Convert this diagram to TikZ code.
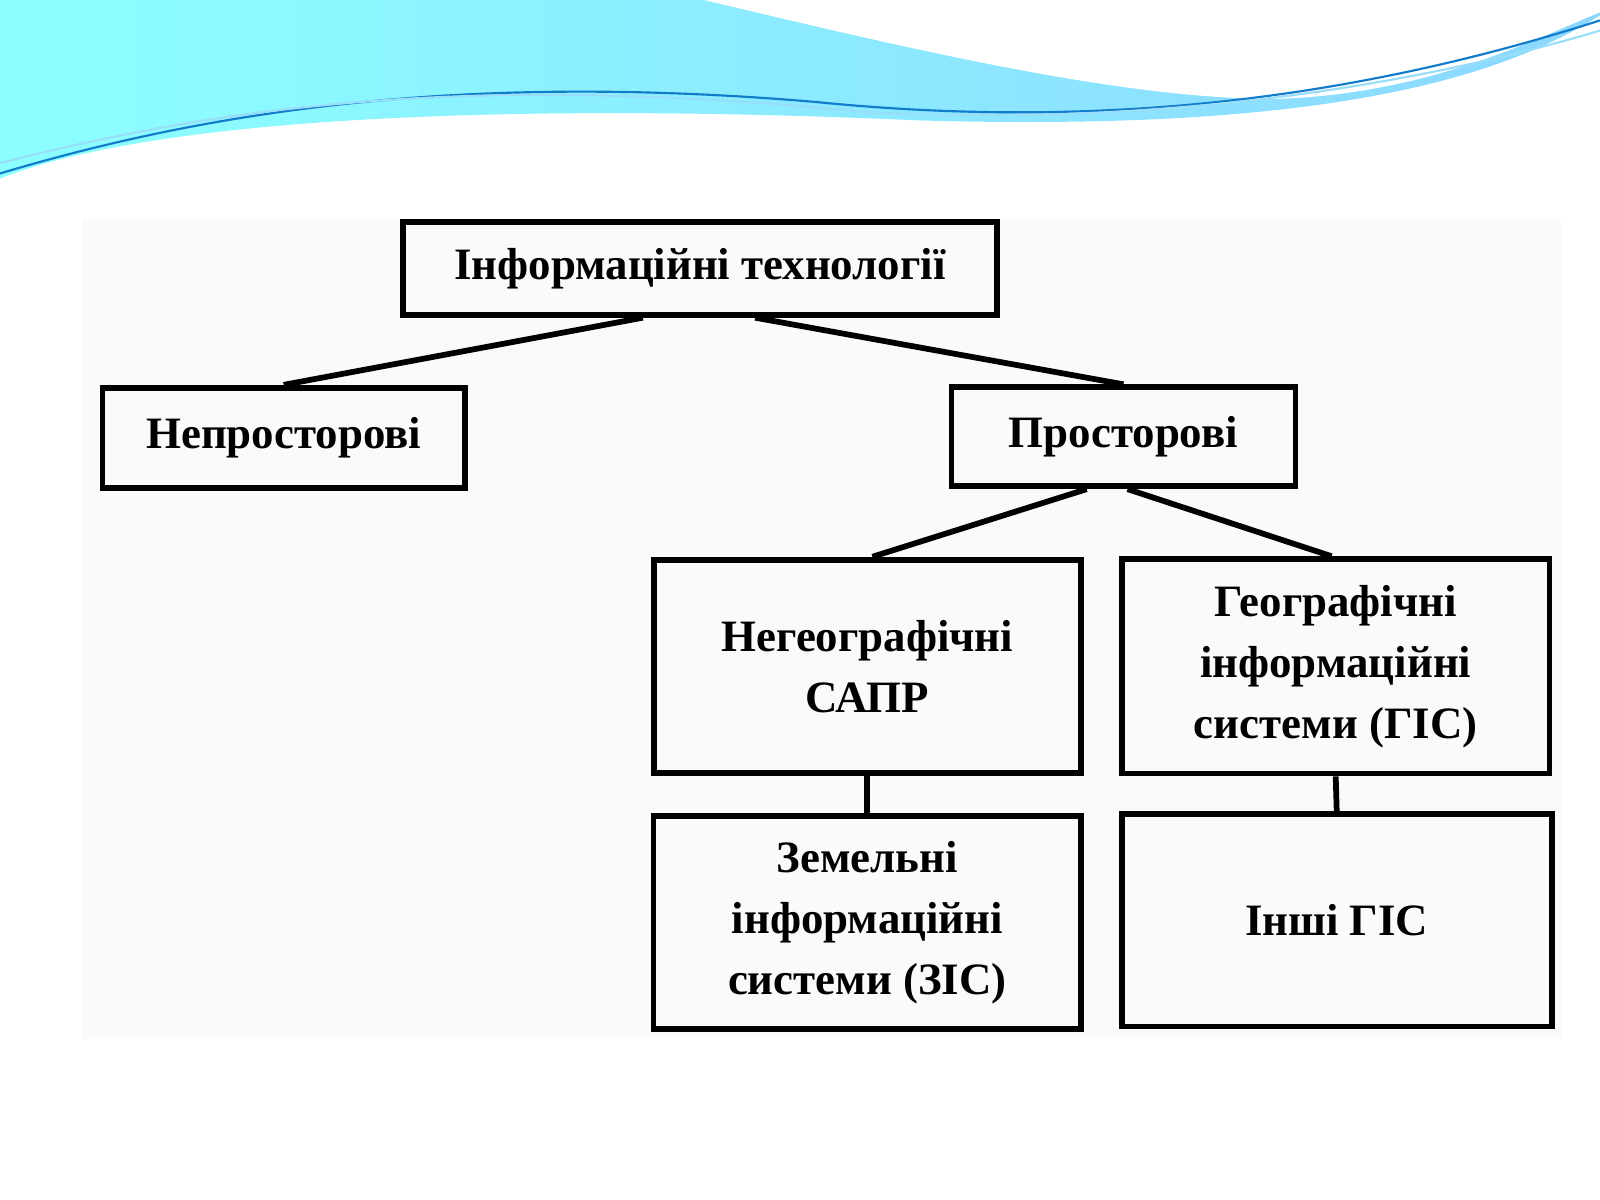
\documentclass[tikz,border=0pt]{standalone}
\usepackage{fontspec}
\setmainfont{Liberation Serif}
\begin{document}
\begin{tikzpicture}[x=0.01cm,y=-0.01cm,
  box/.style 2 args={draw,line width=1.6pt,minimum width=#1,minimum height=#2,inner sep=0pt,align=center,font=\fontsize{12.5}{17}\selectfont\bfseries},
  conn/.style={line width=1.6pt}]
\useasboundingbox (0,0) rectangle (1568,1176);
\fill[white] (0,0) rectangle (1568,1176);
% header wave
\shade[left color=cyan!45!white,right color=blue!35!cyan!45!white]
  (0,0) -- (1568,0) -- (1568,15) .. controls (1450,90) and (1250,128) .. (900,118)
  .. controls (500,100) and (150,115) .. (0,175) -- cycle;
\fill[white] (690,0) .. controls (900,50) and (1100,97) .. (1250,97)
  .. controls (1400,92) and (1500,40) .. (1568,12) -- (1568,0) -- cycle;
\draw[cyan!60!blue,line width=0.6pt] (0,170) .. controls (200,110) and (450,70) .. (800,100)
  .. controls (1100,130) and (1350,90) .. (1568,20);
\draw[cyan!40,line width=0.6pt] (0,160) .. controls (250,95) and (500,75) .. (850,110)
  .. controls (1150,125) and (1400,80) .. (1568,30);
\fill[gray!4] (80,215) rectangle (1530,1018);
% boxes
\node[box={5.82cm}{0.91cm}] (it) at (686,263) {Інформаційні технології};
\node[box={3.55cm}{0.98cm}] (np) at (278,429) {Непросторові};
\node[box={3.37cm}{0.97cm}] (pr) at (1101,428) {Просторові};
\node[box={4.18cm}{2.09cm}] (ng) at (850,653) {Негеографічні\\САПР};
\node[box={4.19cm}{2.10cm}] (gis) at (1309,653) {Географічні\\інформаційні\\системи (ГІС)};
\node[box={4.19cm}{2.08cm}] (zis) at (850,904) {Земельні\\інформаційні\\системи (ЗІС)};
\node[box={4.21cm}{2.08cm}] (ig) at (1310,902) {Інші ГІС};
% connectors
\draw[conn] ([xshift=-0.56cm]it.south) -- (np.north);
\draw[conn] ([xshift=0.54cm]it.south) -- (pr.north);
\draw[conn] ([xshift=-0.36cm]pr.south) -- ([xshift=0.05cm]ng.north);
\draw[conn] ([xshift=0.04cm]pr.south) -- ([xshift=-0.04cm]gis.north);
\draw[conn] (ng.south) -- (zis.north);
\draw[conn] (gis.south) -- (ig.north);
\end{tikzpicture}
\end{document}
